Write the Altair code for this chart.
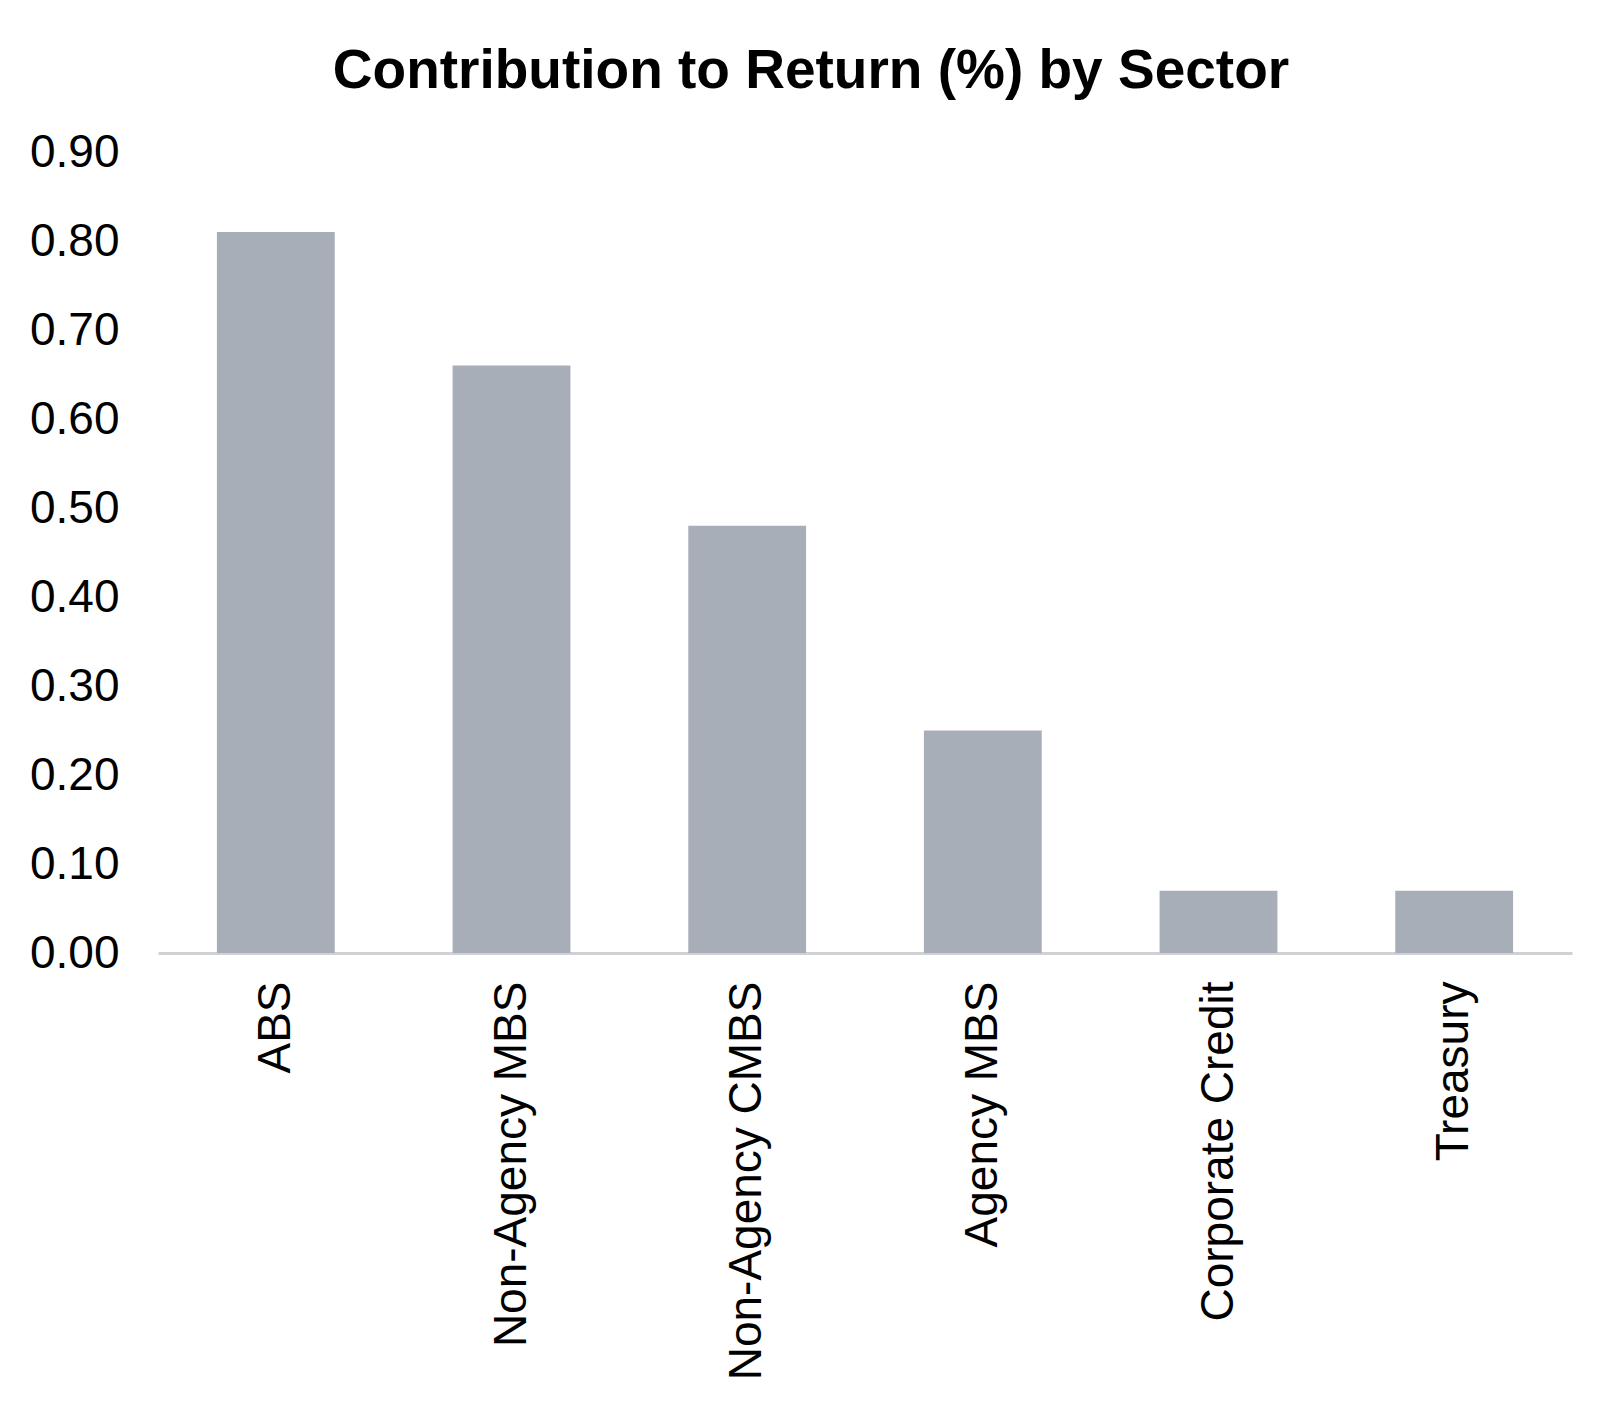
import altair as alt
import pandas as pd

sectors = ["ABS", "Non-Agency MBS", "Non-Agency CMBS", "Agency MBS", "Corporate Credit", "Treasury"]
values = [0.81, 0.66, 0.48, 0.25, 0.07, 0.07]
y_ticks = [0.0, 0.1, 0.2, 0.3, 0.4, 0.5, 0.6, 0.7, 0.8, 0.9]

df = pd.DataFrame({"sector": sectors, "value": values})

FONT = "Liberation Sans"

chart = (
    alt.Chart(df)
    .mark_bar(color="#A8AEB7")
    .encode(
        x=alt.X(
            "sector:N",
            sort=sectors,
            title=None,
            scale=alt.Scale(paddingInner=0.5, paddingOuter=0.25),
            axis=alt.Axis(
                labelAngle=-90,
                labelFontSize=46,
                labelFont=FONT,
                labelColor="#000000",
                labelPadding=28,
                ticks=False,
                domainColor="#D0D1D5",
                domainWidth=3,
                grid=False,
                labelLimit=1000,
            ),
        ),
        y=alt.Y(
            "value:Q",
            title=None,
            scale=alt.Scale(domain=[0, 0.9], nice=False),
            axis=alt.Axis(
                values=y_ticks,
                format=".2f",
                labelFontSize=46,
                labelFont=FONT,
                labelColor="#000000",
                labelPadding=39,
                ticks=False,
                domain=False,
                grid=False,
            ),
        ),
    )
    .properties(
        width=1414,
        height=801,
        view=alt.ViewBackground(strokeWidth=0, strokeOpacity=0),
        title=alt.TitleParams(
            "Contribution to Return (%) by Sector",
            font=FONT,
            fontSize=55,
            fontWeight="bold",
            color="#000000",
            anchor="middle",
            baseline="alphabetic",
            offset=67,
            dx=-54,
            dy=81,
        ),
        autosize=alt.AutoSizeParams(type="none"),
        padding={"left": 150, "top": 144, "right": 30, "bottom": 430},
    )
    .configure_view(strokeWidth=0, strokeOpacity=0)
    .configure(background="#FFFFFF")
)

chart.save("out.html", embed_options={"renderer": "svg", "actions": False})
